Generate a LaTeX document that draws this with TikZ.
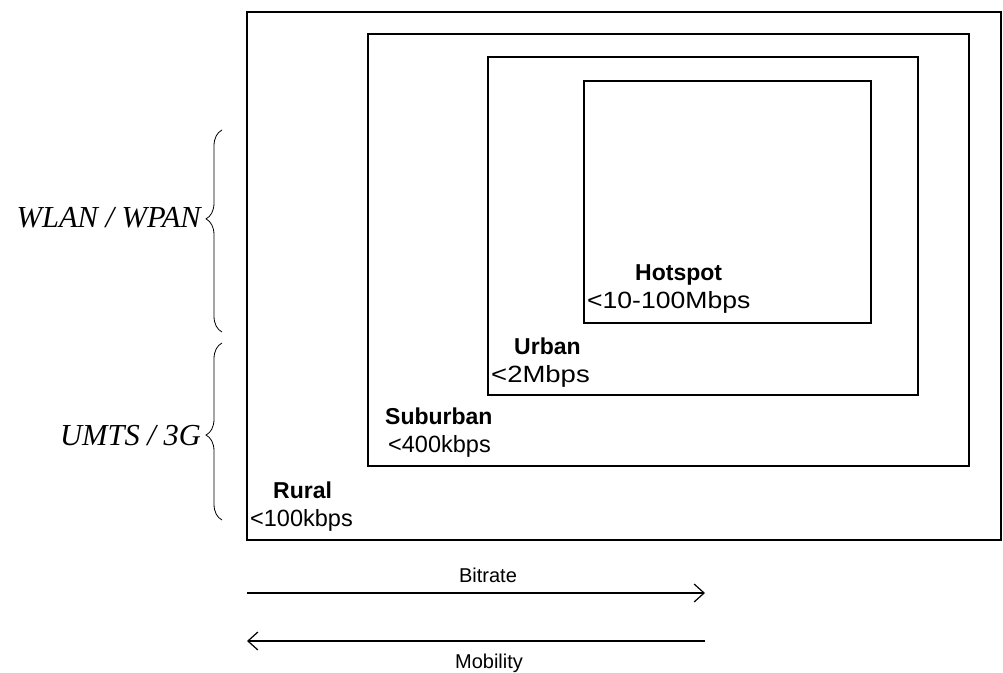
\documentclass[tikz,border=0pt]{standalone}
\usepackage{fontspec}
\setmainfont{Liberation Sans}
\newfontfamily\netfont{Liberation Serif}
\usetikzlibrary{positioning}
\usetikzlibrary{arrows.meta}
\usetikzlibrary{decorations.pathreplacing}

% rates are set a little wider than the zone names
\newcommand{\widerate}[2]{\scalebox{#1}[1]{#2}}

\begin{document}
\begin{tikzpicture}[x=1pt,y=-1pt,>={Straight Barb[length=10pt,width=18pt]},
  zone/.style={draw,line width=1.4pt},
  zonename/.style={font=\fontsize{23}{27}\selectfont\bfseries,inner sep=0pt,anchor=base west},
  zonerate/.style={font=\fontsize{23.5}{28}\selectfont,inner sep=0pt,anchor=base west},
  netbrace/.style={decorate,decoration={brace,amplitude=16pt,aspect=#1},line width=0.8pt},
  netname/.style={font=\fontsize{30.5}{34}\selectfont\netfont\itshape,inner sep=0pt,anchor=east},
  axis/.style={->,line width=1.2pt},
  axisname/.style={font=\fontsize{20}{24}\selectfont,inner sep=0pt,anchor=base}]

\useasboundingbox (0,0) rectangle (1003,672);

% nested coverage areas
\draw[zone] (247,12) rectangle (1001,540);
\draw[zone] (368,34) rectangle (969,466);
\draw[zone] (488,57) rectangle (918,395);
\draw[zone] (584,81) rectangle (871,323);

\node[zonename] (hotspot) at (635,280) {Hotspot};
\node[zonerate] (hotspotrate) at (587,308) {\widerate{1.13}{<10-100Mbps}};
\node[zonename] (urban) at (514,354) {Urban};
\node[zonerate] (urbanrate) at (491,382) {\widerate{1.17}{<2Mbps}};
\node[zonename] (suburban) at (385,424) {Suburban};
\node[zonerate] (suburbanrate) at (388,452) {<400kbps};
\node[zonename] (rural) at (273,498) {Rural};
\node[zonerate] (ruralrate) at (250,526) {<100kbps};

% access networks
\draw[netbrace=0.56] (222,332) -- (222,130);
\draw[netbrace=0.48] (222,520) -- (222,343);
\node[netname] (wlan) at (201,218) {WLAN / WPAN};
\node[netname] (umts) at (201,436) {UMTS / 3G};

% trade-off arrows
\coordinate (bitL) at (247,593);
\coordinate (bitR) at (705,593);
\coordinate (mobL) at (247,641);
\coordinate (mobR) at (705,641);
\draw[axis] (bitL) -- (bitR);
\draw[axis] (mobR) -- (mobL);
\node[axisname] (bitrate) at (488,582) {Bitrate};
\node[axisname] (mobility) at (489,668) {Mobility};
\end{tikzpicture}
\end{document}
